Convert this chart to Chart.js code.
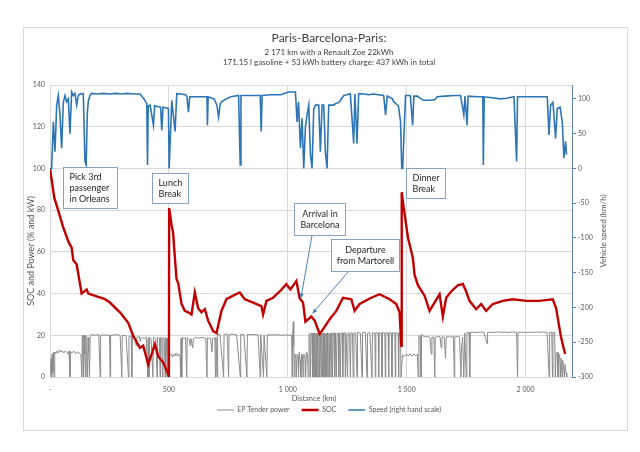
<!DOCTYPE html>
<html><head><meta charset="utf-8">
<script src="https://cdn.jsdelivr.net/npm/chart.js@4"></script>
<style>html,body{margin:0;padding:0;background:#fff}#wrap{position:relative;width:640px;height:452px}</style>
</head><body><div id="wrap"><canvas id="c" width="640" height="452"></canvas></div>
<script>
const titleText = 'Paris-Barcelona-Paris:';
const subtitleLines = ['2 171 km with a Renault Zoe 22kWh', '171.15 l gasoline + 53 kWh battery charge: 437 kWh in total'];
const seriesNames = ['EP Tender power', 'SOC', 'Speed (right hand scale)'];
const xAxisTitle = 'Distance (km)';
const leftAxisTitle = 'SOC and Power (% and kW)';
const rightAxisTitle = 'Vehicle speed (km/h)';
const xTicks = [0, 500, 1000, 1500, 2000];
const xTickLabels = ['-', '500', '1 000', '1 500', '2 000'];
const leftTicks = [0, 20, 40, 60, 80, 100, 120, 140];
const rightTicks = [-300, -250, -200, -150, -100, -50, 0, 50, 100];

// [distance km, power kW]
const powerPoints = [
[0,0],[3,0],[5,9],[7,0],[9,11],[12,2],[14,12],[17,0],[20,12],[24,11],[28,12.5],[34,11.5],[40,13],[46,12],[52,12.5],[58,11.5],[64,12.5],[70,12],[76,11],[80,12.5],[84,0],[86,12],[92,11.5],[100,12.5],[108,11],[116,12],[124,11.5],[130,10.5],[134,0],[136,20],[138,10],[141,0],[143,20],[146,11],[149,0],[151,20],[154,10],[157,0],[160,19],[163,12],[166,0],[169,20],
[175,20.3],[190,20],[205,20.4],[211,0],[213,20],[230,20.2],[250,20],[253,0],[255,20],[275,20.3],[295,20],[302,0],[304,20],[320,19.8],[330,0],[332,19.5],[342,19.7],[344,0],[346,19.5],[358,18.5],[362,15],[365,19],[375,19.5],[380,17],[383,19],[395,18.5],[405,19],[411,0],[413,18.5],[416,0],[418,19],[425,18.5],[433,0],[435,19],[445,18.5],[450,0],[452,19],[460,18.6],[463,0],[465,19],[470,18.5],[473,0],[475,19],[480,18.5],[484,0],[486,19],[490,18.5],[492,0],[494,18.5],[498,18.8],[500,0],
[502,0],[503,10.5],[510,11],[515,9.5],[520,11],[525,10],[530,11.5],[536,10],[542,11],[547,10],[549,0],[551,18.5],[553,10],[555,0],[557,19],
[565,18.5],[570,19],[575,0],[577,18.8],[585,18],[590,15],[593,18.5],[600,14],[603,18.5],[612,19],[625,18.6],[640,19],[655,18.5],[660,0],[662,18.8],[675,18.5],[681,12],[684,18.5],[693,18.8],[696,0],[698,19],[703,0],[705,20.5],
[715,20.3],[730,0],[732,20.5],[745,20.6],[751,0],[753,20.4],[770,20.5],[785,20.2],[800,0],[802,20.5],[815,20.3],[828,0],[830,20.5],[845,20.2],[860,20.4],[875,20.2],[884,0],[886,20.3],[898,0],[900,20.2],[912,0],[914,20.3],[930,20.1],[950,20.3],[970,20],[990,20.2],[1005,20],[1016,20.2],[1018,0],[1020,20],[1023,26.5],[1025,15],[1027,0],[1030,11],[1034,9],[1036,0],[1039,11],[1043,10],[1045,0],[1048,12],[1052,8],[1055,0],[1058,11],[1062,10.5],[1064,0],[1067,11],[1072,10],[1075,0],[1078,12],[1083,11],[1086,0],
[1089,20.5],[1093,21],[1095,0],[1098,20.8],[1102,21],[1104,0],[1107,21],[1110,0],[1113,21.2],[1116,0],[1119,21],[1122,0],[1125,21],[1128,0],[1131,21.3],[1134,0],[1137,21],[1140,0],[1143,21.3],[1146,0],[1149,21],[1152,0],[1155,21.2],[1158,0],[1161,21],[1164,0],[1167,21.2],[1170,0],[1173,21],[1176,0],[1179,21],[1182,0],[1185,21.2],[1188,0],[1191,21],[1195,21.2],[1197,0],[1200,21],[1204,0],[1207,21.1],[1212,21],[1214,0],[1217,21.2],[1221,0],[1224,21],[1229,21.2],[1231,0],[1234,21],[1240,21.3],[1242,0],[1245,21],[1251,0],[1254,21.2],[1260,21],[1263,0],[1266,21.3],[1272,21],[1275,0],[1278,21.2],[1285,21],[1291,0],[1293,21.3],[1305,21],[1312,0],[1314,21.2],[1326,21.4],[1333,0],[1335,21],[1345,21.3],[1354,0],[1356,21.2],[1366,21],[1368,0],[1370,21.3],[1380,21],[1382,0],[1384,21.2],[1394,21],[1396,0],[1398,21.3],[1408,21],[1410,0],[1412,21.2],[1422,21],[1424,0],[1426,21.3],[1436,21],[1438,0],[1440,21.2],[1450,21],[1452,0],[1454,21.2],[1464,21],[1466,0],[1468,21],[1474,21],[1476,0],[1480,0],
[1482,10.5],[1490,9.8],[1498,11],[1506,10],[1514,11.2],[1522,9.9],[1530,11],[1538,10.2],[1545,10.8],[1548,0],[1551,20],[1556,19.5],[1560,0],[1563,20.5],[1570,19.5],[1580,19.2],[1590,19.5],[1598,18.8],[1603,11],[1606,19],[1614,19.3],[1618,0],[1620,19],[1630,19.5],[1640,19.2],[1645,14],[1648,19.3],[1658,19],[1663,9],[1666,19.2],[1676,19.5],[1686,19.1],[1696,19.4],[1700,0],[1702,19.3],[1712,19.5],[1722,19.2],[1728,0],[1730,13],[1735,19],[1740,0],[1744,21],[1750,0],[1753,21.3],[1762,21.4],[1765,0],[1767,21.3],[1780,21.5],[1795,21.3],[1810,21.5],[1825,21.4],[1838,16],[1840,21.3],[1855,21.5],[1870,21.4],[1885,21.6],[1900,21.4],[1915,21.5],[1930,21.4],[1945,21.6],[1962,21.4],[1966,0],[1968,21.4],[1985,21.5],[2000,21.3],[2015,21.5],[2030,21.4],[2045,21.6],[2060,21.4],[2075,21.5],[2090,21.4],[2099,0],[2101,21.3],[2110,21.5],[2113,0],[2115,21.3],[2122,21.4],[2125,0],[2128,11],[2133,12],[2136,0],[2139,10],[2143,11],[2146,0],[2149,9],[2153,0],[2156,8],[2160,5],[2163,0],[2166,6],[2170,2],[2173,0]
];

// [distance km, state of charge %]
const socPoints = [
[0,100],[18,86],[26,83],[42,77],[55,72],[77,65],[91,62],[98,56],[112,54],[133,40],[154,42],[161,40],[231,37.3],[252,35.7],[294,31],[329,26],[350,19.7],[378,14],[392,15],[413,6],[441,15.7],[455,10],[476,7],[497,1.3],[500,0],[501,81],[505,78],[511,73],[518,69],[522,62],[532,47],[539,45],[553,35],[567,31.7],[581,31],[595,30],[609,40.5],[623,33],[637,31],[651,32.5],[665,27],[686,22],[700,21],[721,31.7],[742,37.3],[770,39],[798,40.5],[819,37.3],[854,35.7],[889,34],[896,30],[910,36.5],[938,38],[966,41],[994,44.5],[1011,42],[1036,46],[1050,37.6],[1064,35.7],[1074,26.5],[1099,29],[1113,27],[1134,20.5],[1176,27.7],[1204,31.7],[1232,38],[1267,37.3],[1281,31.7],[1302,35],[1351,38],[1386,39.7],[1428,37.3],[1456,35],[1470,31],[1477,15],[1479,88.6],[1487,81.4],[1505,67],[1526,57],[1533,49],[1547,44],[1575,39],[1596,31.7],[1617,35.7],[1638,39.7],[1652,29],[1666,38],[1687,41],[1715,44],[1736,44.6],[1750,41],[1764,36.5],[1792,32.5],[1813,35],[1834,31.7],[1862,35],[1904,36.5],[1946,37.3],[2002,36.5],[2058,36.5],[2114,37.3],[2128,33],[2149,19],[2166,11]
];

// [distance km, speed km/h]
const speedPoints = [
[0,0],[7,0],[14,67],[21,24],[28,90],[35,105],[42,77],[49,29],[56,95],[63,105],[70,96],[77,100],[84,50],[91,110],[98,105],[105,108],[112,91],[119,105],[126,107],[140,107.6],[147,10],[152,5],[157,80],[161,96],[168,105],[175,108],[200,107],[225,108],[250,107],[275,108],[300,107],[325,108],[350,107],[379,107],[395,100],[407,93],[410,5],[413,90],[421,91],[435,62],[440,90],[456,88.6],[465,88],[470,55],[475,88],[490,87],[498,86],[501,0],[504,0],[512,98],[526,53],[533,107.6],[550,107],[570,106],[576,103],[582,81],[588,103],[620,103],[655,103],[660,103],[662,62],[665,103],[690,100],[702,91],[709,74],[716,93],[723,96],[740,100],[760,103],[793,105],[800,5],[803,105],[850,105],[884,105],[888,53],[892,105],[930,106],[970,106],[1003,110],[1032,110],[1039,67],[1045,96],[1053,29],[1060,72],[1067,0],[1074,60],[1081,77],[1088,91],[1095,20],[1102,0],[1109,85],[1116,91],[1130,91],[1137,24],[1144,91],[1151,91],[1158,24],[1165,0],[1172,91],[1193,91],[1200,93],[1215,95],[1235,105],[1250,106],[1263,107.6],[1277,36],[1282,107],[1291,36],[1298,107.6],[1320,107],[1340,106],[1360,107],[1380,106],[1403,105],[1411,77],[1418,104],[1440,100],[1445,96],[1455,93],[1465,90],[1474,67],[1479,0],[1483,0],[1495,105],[1515,105],[1525,62],[1530,104],[1545,104],[1560,100],[1572,98],[1600,98],[1620,99],[1628,103],[1660,104],[1700,105],[1726,105],[1740,77],[1745,104],[1754,62],[1758,104],[1797,103],[1820,103],[1822,5],[1826,103],[1850,102],[1895,100],[1920,101],[1951,103],[1962,10],[1966,103],[2000,103],[2040,103],[2091,103],[2098,48],[2105,91],[2115,95],[2126,43],[2133,86],[2145,88],[2154,67],[2161,15],[2168,39],[2172,20]
];

// callout texts
const noteTexts = [
  ['Pick 3rd', 'passenger', 'in Orleans'],
  ['Lunch', 'Break'],
  ['Dinner', 'Break'],
  ['Arrival in', 'Barcelona'],
  ['Departure', 'from Martorell']
];

// layout of callouts (data units of the distance and left axes)
const noteLayout = [
  {x0: 55, x1: 282, y0: 100.5, y1: 81, align: 'left'},
  {x0: 428, x1: 580, y0: 97.7, y1: 83.3, align: 'left'},
  {x0: 1495, x1: 1659, y0: 100.4, y1: 86, align: 'left'},
  {x0: 1027, x1: 1239, y0: 83.2, y1: 68, align: 'center', arrow: [1102, 68, 1055, 37.8]},
  {x0: 1182, x1: 1469, y0: 66, y1: 50.7, align: 'center', arrow: [1256, 50.7, 1104, 30.5]}
];

const FONT = 'Lato, "Open Sans", sans-serif';
Chart.defaults.font.family = FONT;
Chart.defaults.color = '#595959';

const toXY = arr => arr.map(p => ({x: p[0], y: p[1]}));

const decor = {
  id: 'decor',
  beforeDraw(chart) {
    const c = chart.ctx;
    c.save();
    c.fillStyle = '#fff';
    c.fillRect(0, 0, chart.width, chart.height);
    c.strokeStyle = '#d9d9d9';
    c.lineWidth = 1;
    c.strokeRect(23.5, 27.5, 604, 403);
    c.restore();
  },
  afterDraw(chart) {
    const c = chart.ctx;
    const a = chart.chartArea;
    const xs = chart.scales.x, ys = chart.scales.y;
    c.save();
    // axis titles
    c.fillStyle = '#595959';
    c.textAlign = 'center';
    c.textBaseline = 'middle';
    c.font = '7.5px ' + FONT;
    c.fillText(xAxisTitle, (a.left + a.right) / 2 + 3, a.bottom + 22);
    c.font = '9px ' + FONT;
    c.save();
    c.translate(a.left - 19, (a.top + a.bottom) / 2 + 20);
    c.rotate(-Math.PI / 2);
    c.fillText(leftAxisTitle, 0, 0);
    c.restore();
    c.font = '8px ' + FONT;
    c.save();
    c.translate(a.right + 31, (a.top + a.bottom) / 2);
    c.rotate(-Math.PI / 2);
    c.fillText(rightAxisTitle, 0, 0);
    c.restore();
    // callouts
    noteLayout.forEach((n, i) => {
      const x0 = Math.round(xs.getPixelForValue(n.x0)) + 0.5;
      const x1 = Math.round(xs.getPixelForValue(n.x1)) + 0.5;
      const y0 = Math.round(ys.getPixelForValue(n.y0)) + 0.5;
      const y1 = Math.round(ys.getPixelForValue(n.y1)) + 0.5;
      if (n.arrow) {
        const ax0 = xs.getPixelForValue(n.arrow[0]), ay0 = ys.getPixelForValue(n.arrow[1]);
        const ax1 = xs.getPixelForValue(n.arrow[2]), ay1 = ys.getPixelForValue(n.arrow[3]);
        c.strokeStyle = '#4f81bd';
        c.fillStyle = '#4f81bd';
        c.lineWidth = 1;
        c.beginPath(); c.moveTo(ax0, ay0); c.lineTo(ax1, ay1); c.stroke();
        const ang = Math.atan2(ay1 - ay0, ax1 - ax0);
        c.beginPath();
        c.moveTo(ax1, ay1);
        c.lineTo(ax1 - 5 * Math.cos(ang - 0.45), ay1 - 5 * Math.sin(ang - 0.45));
        c.lineTo(ax1 - 5 * Math.cos(ang + 0.45), ay1 - 5 * Math.sin(ang + 0.45));
        c.closePath(); c.fill();
      }
      c.fillStyle = '#fff';
      c.fillRect(x0, y0, x1 - x0, y1 - y0);
      c.strokeStyle = '#86a2c2';
      c.lineWidth = 1;
      c.strokeRect(x0, y0, x1 - x0, y1 - y0);
      c.fillStyle = '#262626';
      c.font = '9px ' + FONT;
      c.textBaseline = 'middle';
      const lines = noteTexts[i];
      const lh = 10.7;
      const cy = (y0 + y1) / 2;
      lines.forEach((t, k) => {
        const ty = cy + (k - (lines.length - 1) / 2) * lh;
        if (n.align === 'left') { c.textAlign = 'left'; c.fillText(t, x0 + 6, ty); }
        else { c.textAlign = 'center'; c.fillText(t, (x0 + x1) / 2, ty); }
      });
    });
    c.restore();
  }
};

new Chart(document.getElementById('c'), {
  type: 'line',
  data: {
    datasets: [
      {label: seriesNames[0], data: toXY(powerPoints), yAxisID: 'y', borderColor: '#8c8c8c', backgroundColor: '#8c8c8c', borderWidth: 1, pointRadius: 0, pointStyle: 'line', order: 3, tension: 0},
      {label: seriesNames[1], data: toXY(socPoints), yAxisID: 'y', borderColor: '#c00000', backgroundColor: '#c00000', borderWidth: 2.4, pointRadius: 0, pointStyle: 'line', order: 2, tension: 0},
      {label: seriesNames[2], data: toXY(speedPoints), yAxisID: 'y2', borderColor: '#2e75b6', backgroundColor: '#2e75b6', borderWidth: 1.6, pointRadius: 0, pointStyle: 'line', order: 1, tension: 0}
    ]
  },
  options: {
    responsive: false,
    animation: false,
    devicePixelRatio: 1,
    layout: {padding: {left: 20, right: 2, top: 31, bottom: 28.5}},
    plugins: {
      title: {display: true, text: titleText, color: '#404040', font: {size: 12, weight: 'normal', lineHeight: 1.2}, padding: {top: 0, bottom: 0}},
      subtitle: {display: true, text: subtitleLines, color: '#404040', font: {size: 8, lineHeight: 1.3}, padding: {top: 1.4, bottom: 17.4}},
      legend: {position: 'bottom', labels: {usePointStyle: true, pointStyleWidth: 17, boxHeight: 7, font: {size: 7}, color: '#595959', padding: 12,
        sort: (a, b) => a.datasetIndex - b.datasetIndex}},
      tooltip: {enabled: false}
    },
    scales: {
      x: {
        type: 'linear', min: 0, max: 2195,
        afterBuildTicks: s => { s.ticks = xTicks.map(v => ({value: v})); },
        afterFit: s => { s.height = 17.5; },
        ticks: {autoSkip: false, maxRotation: 0, padding: 8.5, font: {size: 7}, color: '#595959',
          callback: v => xTickLabels[xTicks.indexOf(v)]},
        grid: {color: '#d9d9d9', drawTicks: false},
        border: {color: '#d9d9d9'},
        title: {display: false}
      },
      y: {
        position: 'left', min: 0, max: 140,
        afterBuildTicks: s => { s.ticks = leftTicks.map(v => ({value: v})); },
        afterFit: s => { s.width = 30; },
        ticks: {padding: 5, font: {size: 7}, color: '#595959'},
        grid: {color: '#d9d9d9', drawTicks: false},
        border: {display: false}
      },
      y2: {
        position: 'right', min: -300, max: 120,
        afterBuildTicks: s => { s.ticks = rightTicks.map(v => ({value: v})); },
        afterFit: s => { s.width = 66; },
        ticks: {padding: 2, font: {size: 7}, color: '#595959'},
        grid: {drawOnChartArea: false, drawTicks: true, tickLength: 4, color: '#5f83ab', tickColor: '#5f83ab'},
        border: {color: '#5f83ab'}
      }
    }
  },
  plugins: [decor]
});
</script>
</body></html>
